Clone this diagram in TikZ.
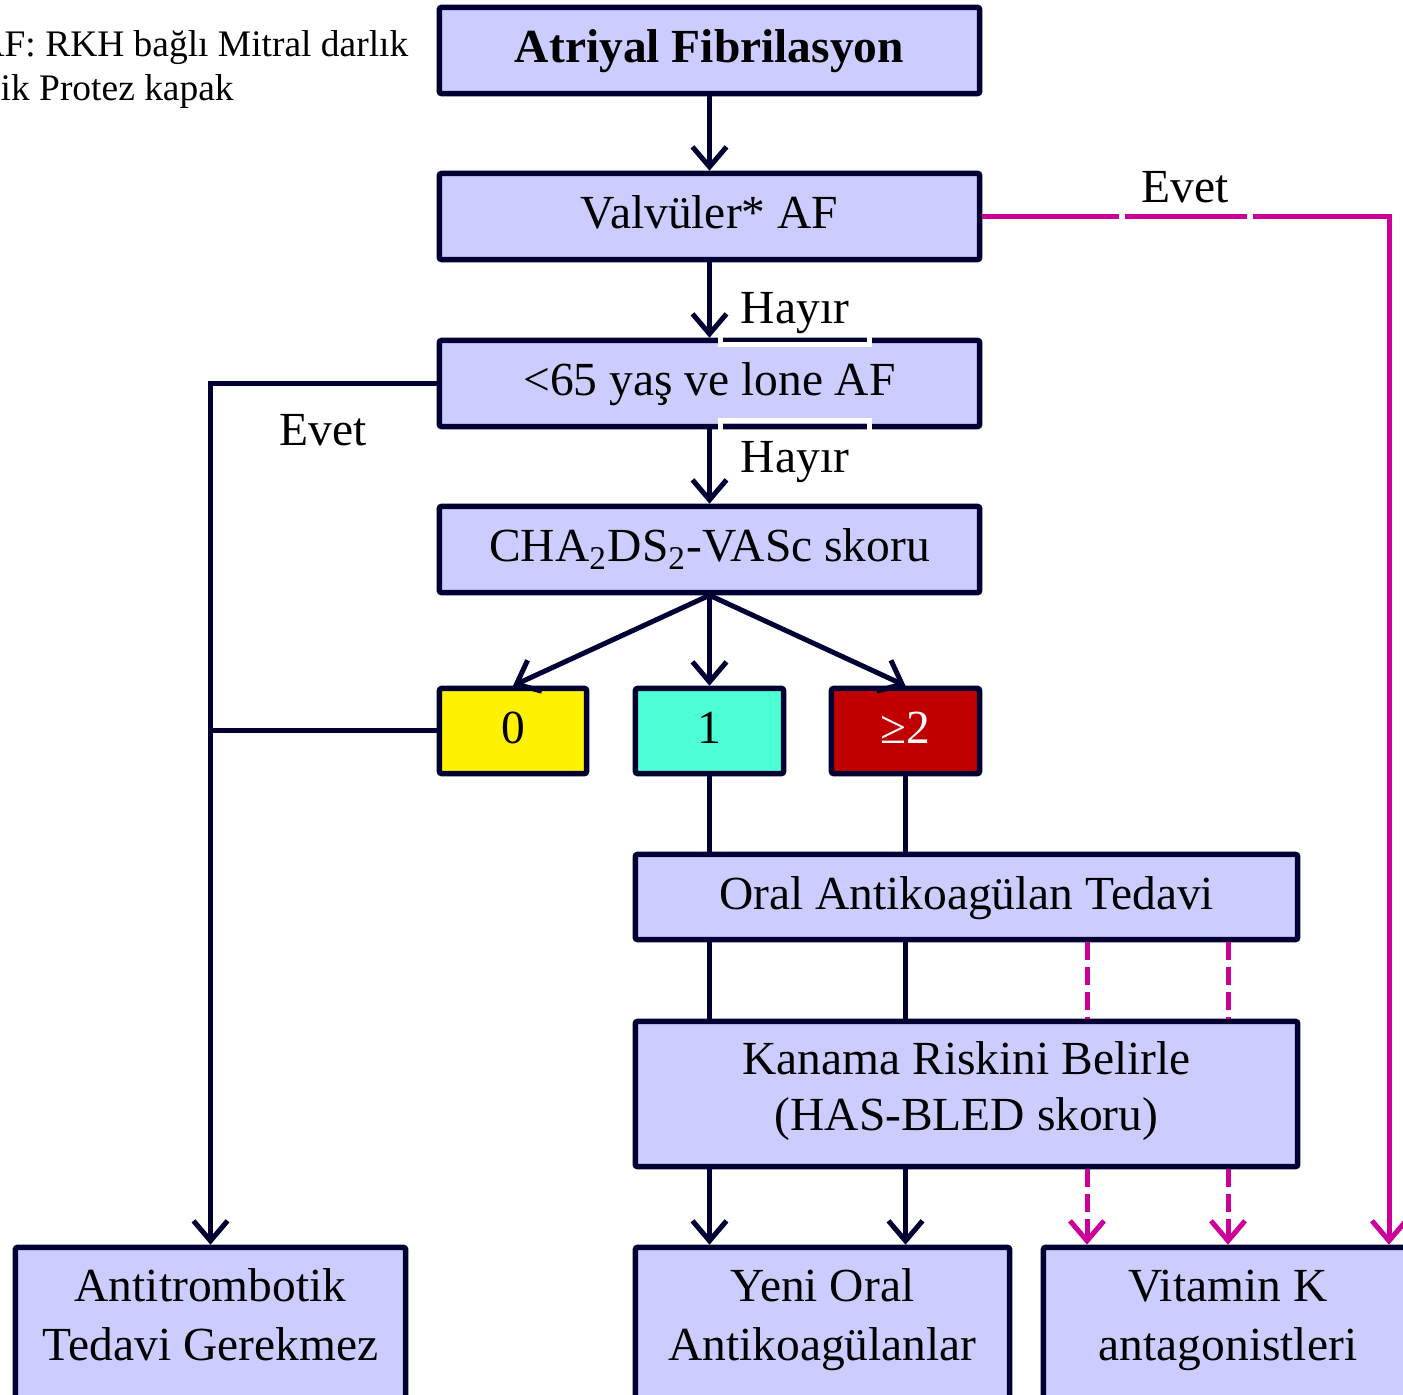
\documentclass[tikz,border=0pt]{standalone}
\usepackage{fontspec}
\setmainfont{Liberation Serif}
\usetikzlibrary{arrows.meta,calc}
\definecolor{navy}{RGB}{0,0,51}
\definecolor{boxfill}{RGB}{204,204,255}
\definecolor{magc}{RGB}{204,0,153}
\definecolor{aqua}{RGB}{76,255,212}
\definecolor{darkred}{RGB}{192,0,0}
\begin{document}
\begin{tikzpicture}[x=0.01cm,y=-0.01cm,
  box/.style={draw=navy, line width=0.055cm, fill=boxfill, rounded corners=0.6pt, inner sep=0pt,
    font=\fontsize{13.5}{16.5}\selectfont, text=black, align=center},
  onebox/.style={box, text height=0.33cm, text depth=0.09cm},
  lbl/.style={inner sep=0pt, font=\fontsize{13.5}{16.5}\selectfont, text=black},
  smalltxt/.style={inner sep=0pt, font=\fontsize{10.65}{12.8}\selectfont, text=black},
  conn/.style={draw=navy, line width=0.05cm},
  arr/.style={conn, -{Straight Barb[length=0.2cm,width=0.34cm]}},
  magline/.style={draw=magc, line width=0.05cm},
  magarr/.style={magline, -{Straight Barb[length=0.2cm,width=0.34cm]}},
  dashpat/.style={dash pattern=on 0.18cm off 0.07cm},
  gap/.style={draw=white, line width=0.05cm}
]
\useasboundingbox (0,0) rectangle (1403,1395);

% top-left note
\node[smalltxt, anchor=base east] (n1) at (409,57) {AF: RKH bağlı Mitral darlık};
\node[smalltxt, anchor=base west] (n2) at (0,101) {ik Protez kapak};

% main boxes
\node[onebox, minimum width=5.4cm, minimum height=0.86cm] (atr) at (709.5,50.5) {\bfseries Atriyal Fibrilasyon};
\node[onebox, minimum width=5.4cm, minimum height=0.86cm] (valv) at (709.5,216.5) {Valvüler* AF};
\node[onebox, minimum width=5.4cm, minimum height=0.86cm] (lone) at (709.5,383.5) {<65 yaş ve lone AF};
\node[onebox, minimum width=5.4cm, minimum height=0.86cm] (cha) at (709.5,549.5) {CHA\textsubscript{2}DS\textsubscript{2}-VASc skoru};

\node[onebox, fill=yellow, minimum width=1.47cm, minimum height=0.85cm] (z0) at (513,731) {0};
\node[onebox, fill=aqua, minimum width=1.48cm, minimum height=0.85cm] (z1) at (709.5,731) {1};
\node[onebox, fill=darkred, text=white, minimum width=1.48cm, minimum height=0.85cm] (z2) at (905.5,731) {≥2};

\node[onebox, minimum width=6.62cm, minimum height=0.85cm] (oral) at (966.5,897) {Oral Antikoagülan Tedavi};
\node[box, minimum width=6.62cm, minimum height=1.45cm, font=\fontsize{13.5}{16.2}\selectfont] (kan) at (966.5,1094)
  {\rule{0pt}{0.33cm}Kanama Riskini Belirle\\(HAS-BLED skoru)\rule[-0.16cm]{0pt}{0.16cm}};

\node[box, minimum width=3.9cm, minimum height=1.925cm] (anti) at (210.5,1343.75)
  {\rule{0pt}{0.33cm}Antitrombotik\\Tedavi Gerekmez\rule[-0.585cm]{0pt}{0.585cm}};
\node[box, minimum width=3.74cm, minimum height=1.925cm] (yeni) at (822.5,1343.75)
  {\rule{0pt}{0.33cm}Yeni Oral\\Antikoagülanlar\rule[-0.585cm]{0pt}{0.585cm}};
\node[box, minimum width=3.69cm, minimum height=1.925cm] (vit) at (1228,1343.75)
  {\rule{0pt}{0.33cm}Vitamin K\\antagonistleri\rule[-0.585cm]{0pt}{0.585cm}};

% labels
\node[lbl, anchor=base] (h1) at (795,324) {Hayır};
\node[lbl, anchor=base] (h2) at (795,473) {Hayır};
\node[lbl, anchor=base] (e1) at (323,446) {Evet};
\node[lbl, anchor=base] (e2) at (1185,203) {Evet};

% white label frames crossing the box borders
\draw[gap] (720.5,334) -- (720.5,344.5) -- (869.5,344.5) -- (869.5,334);
\draw[gap] (720.5,433) -- (720.5,420.5) -- (869.5,420.5) -- (869.5,433);

% navy connectors
\draw[arr] (atr) -- (valv);
\draw[arr] (valv) -- (lone);
\draw[arr] (lone) -- (cha);
\draw[arr] (cha.south) -- (z0.north);
\draw[arr] (cha.south) -- (z1.north);
\draw[arr] (cha.south) -- (z2.north);
\draw[arr] (lone.west) -| (anti.north);
\draw[conn] (z0.west) -- (z0.west -| anti.north);
\draw[conn] (z1.south) -- (z1.south |- oral.north);
\draw[conn] (z1.south |- oral.south) -- (z1.south |- kan.north);
\draw[arr] (z1.south |- kan.south) -- (z1.south |- yeni.north);
\draw[conn] (z2.south) -- (z2.south |- oral.north);
\draw[conn] (z2.south |- oral.south) -- (z2.south |- kan.north);
\draw[arr] (z2.south |- kan.south) -- (z2.south |- yeni.north);

% magenta connectors
\coordinate (d1) at (1087,0);
\coordinate (d2) at (1228,0);
\coordinate (rr) at (1389,0);
\draw[magline, dashpat] (d1 |- oral.south) -- (d1 |- kan.north);
\draw[magline, dashpat] (d2 |- oral.south) -- (d2 |- kan.north);
\draw[magarr, dashpat] (d1 |- kan.south) -- (d1 |- vit.north);
\draw[magarr, dashpat] (d2 |- kan.south) -- (d2 |- vit.north);
\draw[magarr] (valv.east) -- (rr |- valv.east) -- (rr |- vit.north);
\draw[gap, line width=0.06cm] (1121.5,209) -- (1121.5,224);
\draw[gap, line width=0.06cm] (1249.5,209) -- (1249.5,224);
\end{tikzpicture}
\end{document}
